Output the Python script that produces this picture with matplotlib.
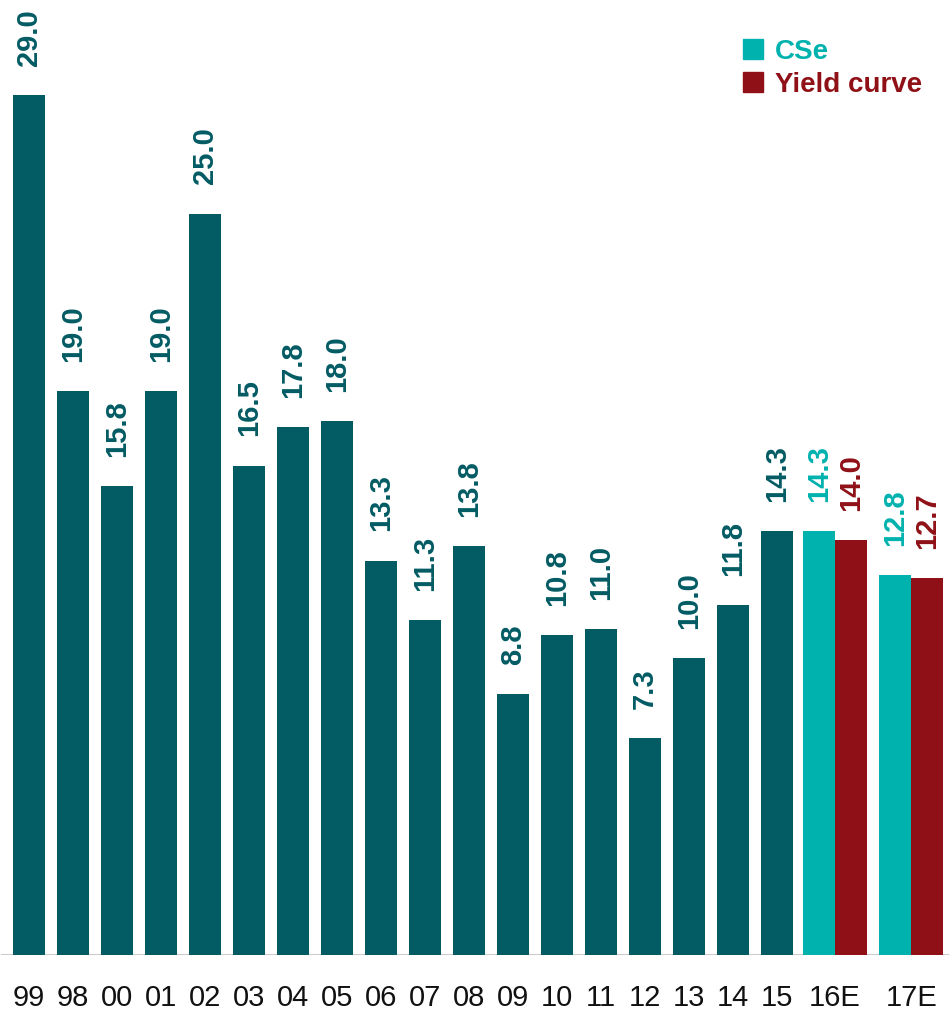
import matplotlib.pyplot as plt
from matplotlib.lines import Line2D
import numpy as np

plt.rcParams["font.family"] = ["Liberation Sans", "DejaVu Sans"]

years = ["99", "98", "00", "01", "02", "03", "04", "05", "06", "07",
         "08", "09", "10", "11", "12", "13", "14", "15"]
history = [29.0, 19.0, 15.8, 19.0, 25.0, 16.5, 17.8, 18.0, 13.3, 11.3,
           13.8, 8.8, 10.8, 11.0, 7.3, 10.0, 11.8, 14.3]
forecast_years = ["16E", "17E"]
cse = [14.3, 12.8]
yield_curve = [14.0, 12.7]

DARK = "#035B63"
CYAN = "#00B2AE"
RED = "#8F1117"

fig = plt.figure(figsize=(9.49, 10.15), dpi=100)
ax = fig.add_axes([0, 60 / 1015, 1, 955 / 1015])

width = 32 / 44
x_hist = np.arange(len(years))
# forecast group centres (in bar-spacing units)
x_fc = np.array([len(years) + 0.32, len(years) + 2.05])

ax.bar(x_hist, history, width=width, color=DARK, zorder=2)
ax.bar(x_fc - width / 2, cse, width=width, color=CYAN, zorder=2)
ax.bar(x_fc + width / 2, yield_curve, width=width, color=RED, zorder=2)

def label(xs, vals, color):
    for x, v in zip(xs, vals):
        ax.annotate(f"{v:.1f}", (x, v), xytext=(0, 21), textcoords="offset points",
                    ha="center", va="bottom", rotation=90, color=color,
                    fontsize=21, fontweight="bold")

label(x_hist, history, DARK)
label(x_fc - width / 2, cse, CYAN)
label(x_fc + width / 2, yield_curve, RED)

ax.axhline(0, color="#c4c4c4", linewidth=2, zorder=1, xmin=0.002)

ax.set_xlim(-29 / 44, 920 / 44)
ax.set_ylim(0, 955 / 29.66)
ax.set_xticks(list(x_hist) + list(x_fc))
ax.set_xticklabels(years + forecast_years, fontsize=21, color="#111111")
ax.tick_params(axis="x", length=0, pad=21)
ax.set_yticks([])
for s in ax.spines.values():
    s.set_visible(False)

handles = [Line2D([], [], marker="s", linestyle="", markersize=14.5, color=CYAN),
           Line2D([], [], marker="s", linestyle="", markersize=14.5, color=RED)]
leg = ax.legend(handles, ["CSe", "Yield curve"], loc="upper left",
                bbox_to_anchor=(728 / 949, 1 - 28 / 955), frameon=False,
                labelcolor=[CYAN, RED], handletextpad=0.3, labelspacing=0.25,
                borderaxespad=0, handlelength=1.0,
                prop={"size": 20, "weight": "bold"})

fig.savefig("out.png", dpi=100)
